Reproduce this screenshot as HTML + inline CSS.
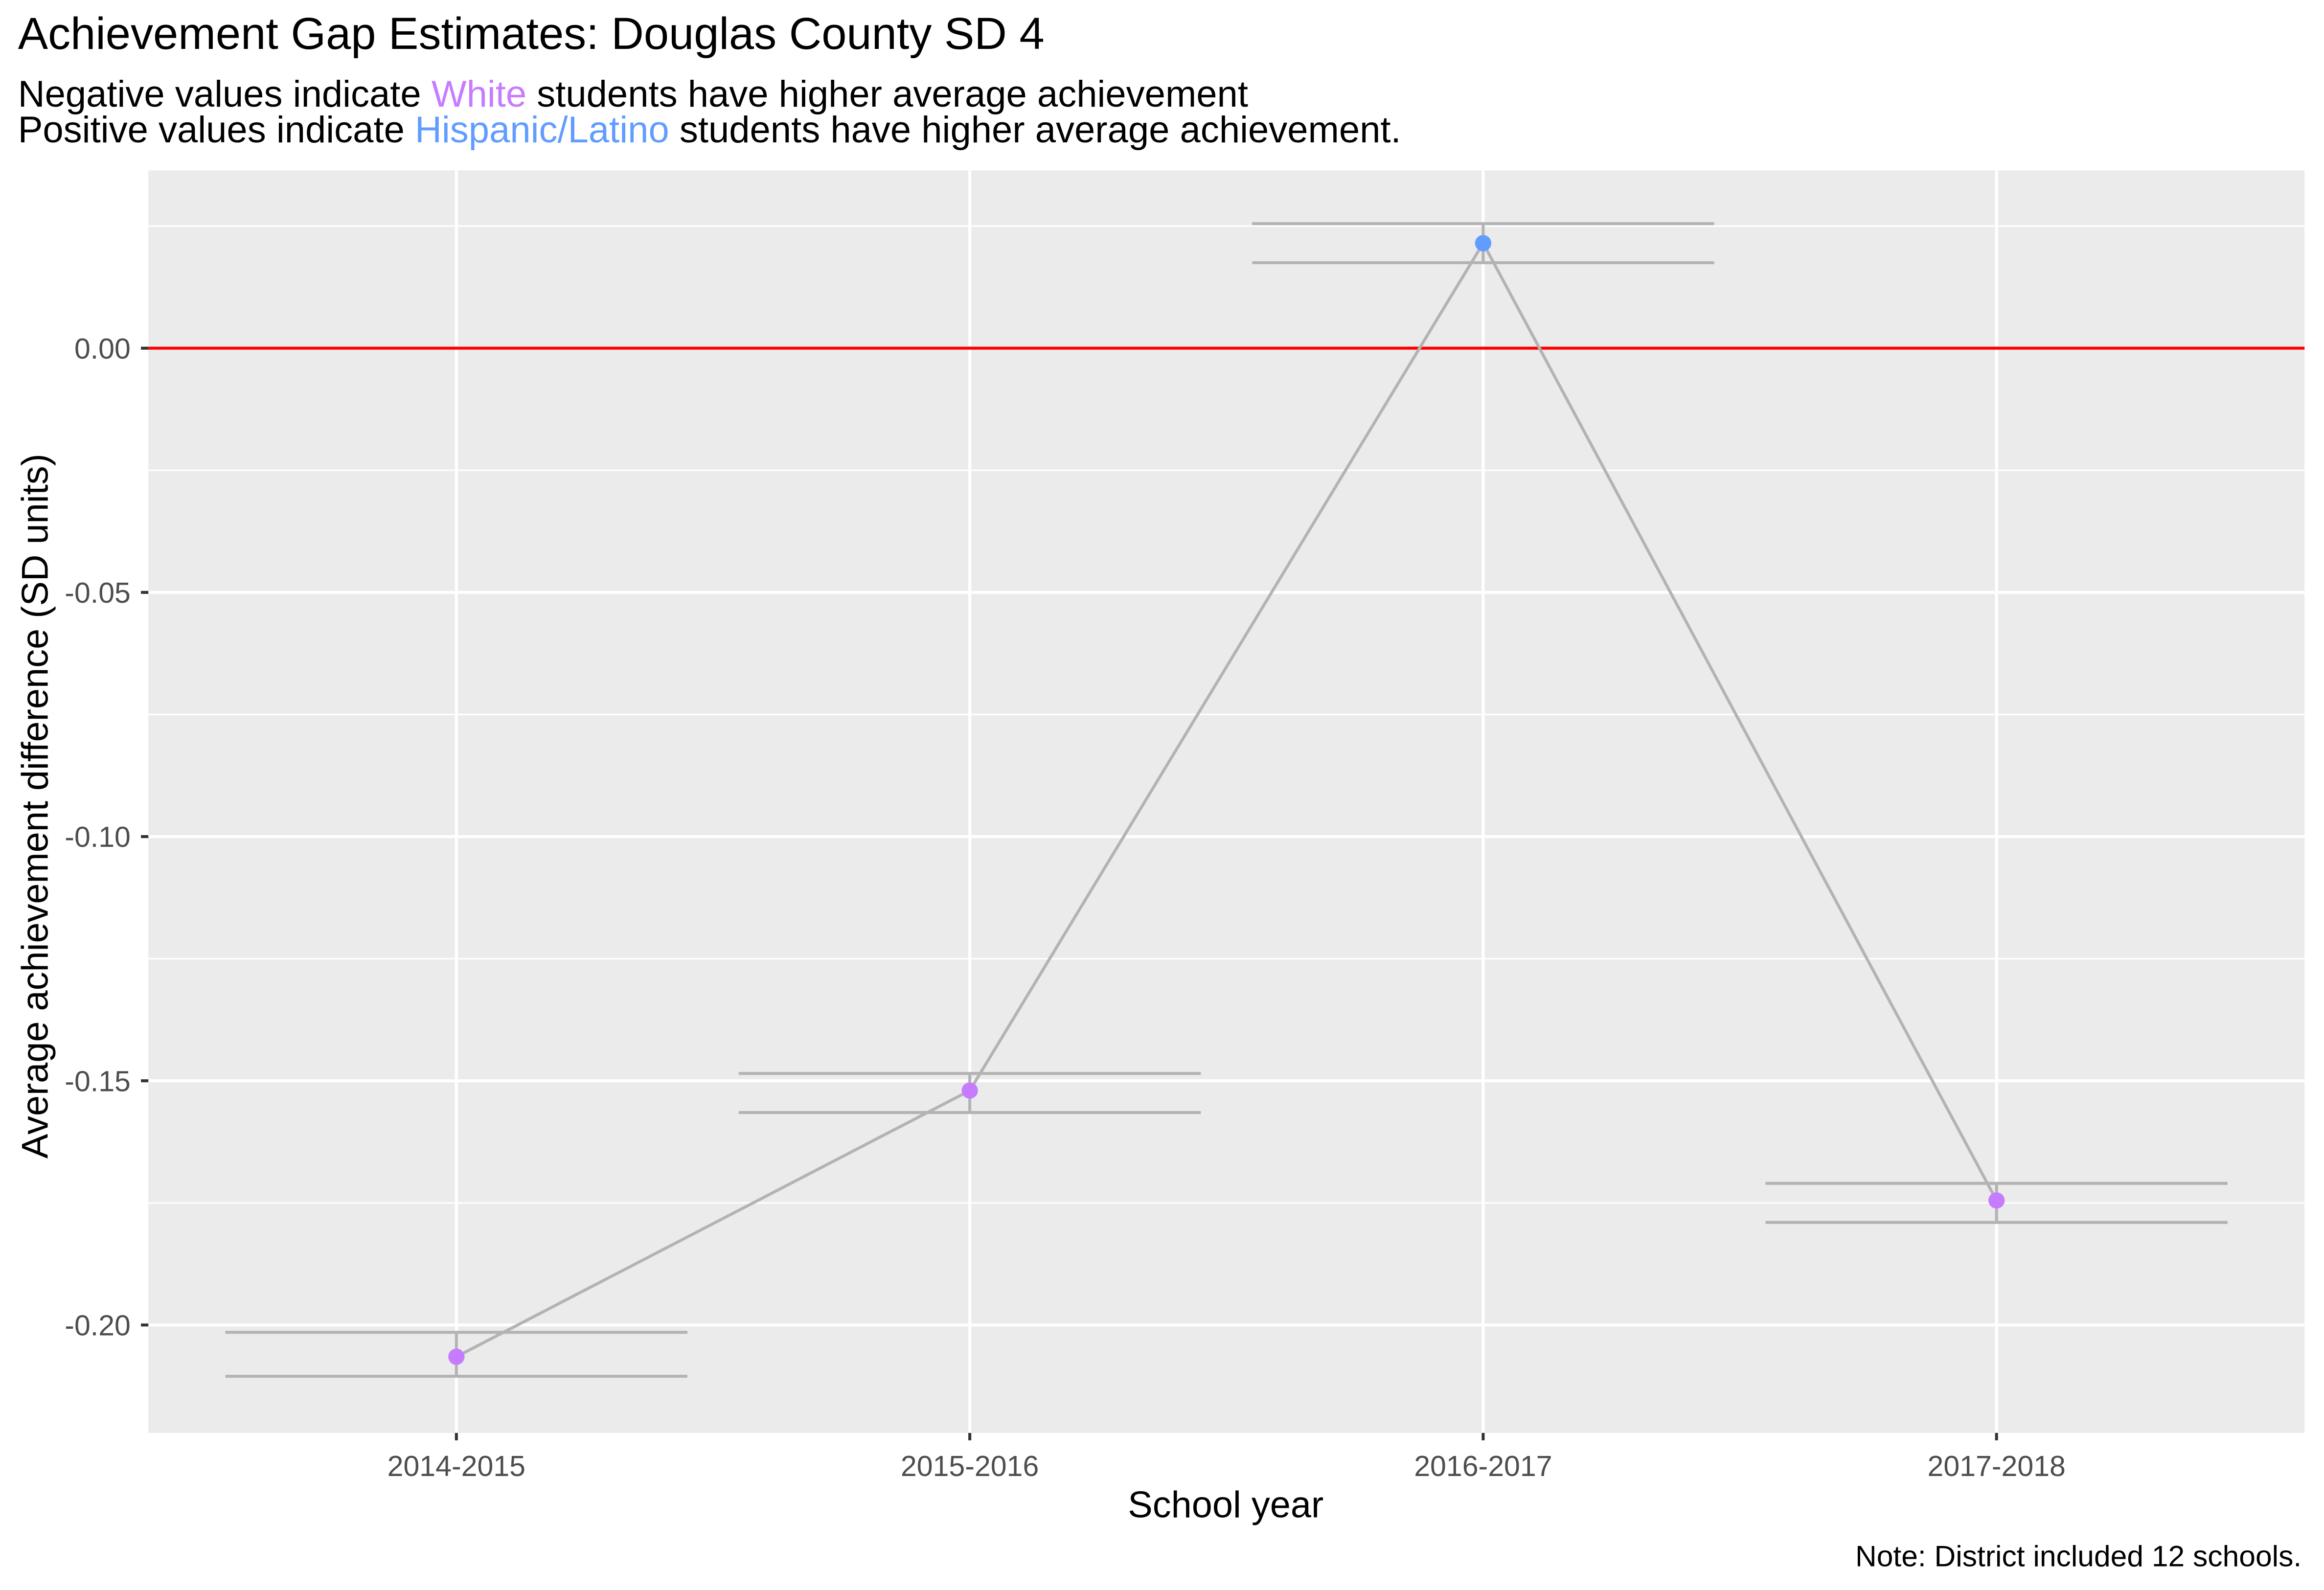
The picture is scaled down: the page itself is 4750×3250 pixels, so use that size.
<!DOCTYPE html>
<html><head><meta charset="utf-8"><style>
html,body{margin:0;padding:0;background:#fff;}
svg{display:block;font-family:"Liberation Sans",Arial,sans-serif;}
</style></head><body>
<svg id="chart" width="4750" height="3250" viewBox="0 0 1568 1073" xmlns="http://www.w3.org/2000/svg">
<text x="12" y="33" font-size="30.4" fill="#000">Achievement Gap Estimates: Douglas County SD 4</text>
<text x="12" y="72" font-size="25.1" fill="#000">Negative values indicate <tspan fill="#C77CFF">White</tspan> students have higher average achievement</text>
<text x="12" y="96" font-size="25.1" fill="#000">Positive values indicate <tspan fill="#619CFF">Hispanic/Latino</tspan> students have higher average achievement.</text>
<g id="plot"></g>
<text x="827" y="1024" font-size="25" text-anchor="middle" fill="#000">School year</text>
<text transform="translate(32,544) rotate(-90)" font-size="25" text-anchor="middle" fill="#000">Average achievement difference (SD units)</text>
<text x="1553" y="1057" font-size="20" text-anchor="end" fill="#000">Note: District included 12 schools.</text>
</svg>
<script>
const years = ["2014-2015","2015-2016","2016-2017","2017-2018"];
const estimates = [-0.2065, -0.152, 0.0215, -0.1745];
const upper = [-0.2015, -0.1485, 0.0255, -0.171];
const lower = [-0.2105, -0.1565, 0.0175, -0.179];
const yTicks = [0, -0.05, -0.10, -0.15, -0.20];
const yTickLabels = ["0.00","-0.05","-0.10","-0.15","-0.20"];
const yMinor = [0.025, -0.025, -0.075, -0.125, -0.175];

const L=100,R=1555,T=115,B=967;
const yMax=0.0364,yMin=-0.2221;
function yS(v){return T+(yMax-v)/(yMax-yMin)*(B-T);}
const step=(R-L)/(years.length+0.2);
function xS(i){return L+step*(0.6+i);}
const NS="http://www.w3.org/2000/svg";
const g=document.getElementById('plot');
function mk(tag,attrs,parent){const e=document.createElementNS(NS,tag);for(const k in attrs)e.setAttribute(k,attrs[k]);(parent||g).appendChild(e);return e;}

const bg=mk('rect',{x:L,y:T,width:R-L,height:B-T,fill:'#ebebeb'});


yMinor.forEach(v=>{const l=mk('line',{x1:L,x2:R,y1:yS(v),y2:yS(v),stroke:'#fff','stroke-width':1});

});
yTicks.forEach((v,i)=>{const l=mk('line',{x1:L,x2:R,y1:yS(v),y2:yS(v),stroke:'#fff','stroke-width':2});


const tk=mk('line',{x1:L-5,x2:L,y1:yS(v),y2:yS(v),stroke:'#333','stroke-width':2});


const t=mk('text',{x:L-12,y:yS(v)+7,'font-size':19.5,'text-anchor':'end',fill:'#4d4d4d'});t.textContent=yTickLabels[i];

});
years.forEach((y,i)=>{const l=mk('line',{x1:xS(i),x2:xS(i),y1:T,y2:B,stroke:'#fff','stroke-width':2});


const tk=mk('line',{x1:xS(i),x2:xS(i),y1:B,y2:B+5,stroke:'#333','stroke-width':2});


const t=mk('text',{x:xS(i),y:B+29,'font-size':19.5,'text-anchor':'middle',fill:'#4d4d4d'});t.textContent=y;

});
const zero=mk('line',{x1:L,x2:R,y1:yS(0),y2:yS(0),stroke:'#ff0000','stroke-width':2});


const hw=step*0.45;
years.forEach((y,i)=>{const x=xS(i);
const eb=mk('path',{d:`M${x-hw},${yS(upper[i])}H${x+hw}M${x},${yS(upper[i])}V${yS(lower[i])}M${x-hw},${yS(lower[i])}H${x+hw}`,stroke:'#b3b3b3','stroke-width':2,fill:'none'});

});
const pl=mk('polyline',{points:estimates.map((v,i)=>xS(i)+','+yS(v)).join(' '),stroke:'#b3b3b3','stroke-width':2,fill:'none'});


estimates.forEach((v,i)=>{const c=mk('circle',{cx:xS(i),cy:yS(v),r:5.5,fill:v<0?'#C77CFF':'#619CFF'});

});
</script>
</body></html>
